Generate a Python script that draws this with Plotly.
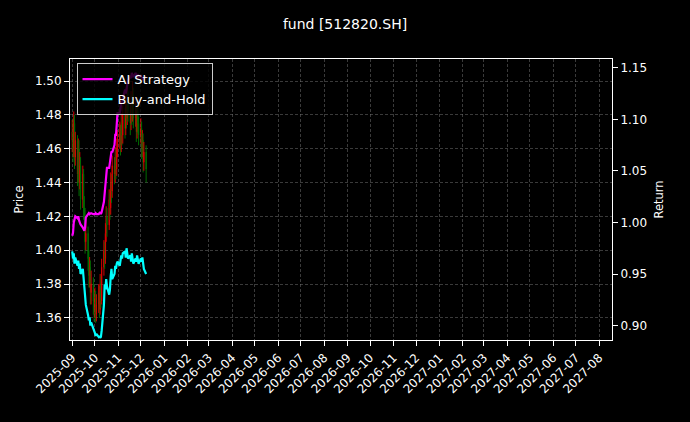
import pandas as pd
import plotly.graph_objects as go
from plotly.subplots import make_subplots

dates = pd.bdate_range("2025-09-01", "2025-12-08")

closes = [1.470,1.460,1.475,1.455,1.465,1.445,1.460,1.440,1.450,1.430,1.445,1.425,1.420,1.405,1.410,1.395,1.385,1.390,1.375,1.380,1.370,1.365,
          1.372,1.362,1.368,1.375,1.365,1.380,1.370,1.390,1.400,1.395,1.410,1.420,1.415,1.430,1.425,1.440,1.435,1.450,1.445,1.455,1.448,1.460,1.465,
          1.470,1.462,1.475,1.468,1.480,1.472,1.485,1.478,1.490,1.482,1.475,1.488,1.480,1.492,1.478,1.485,1.470,1.482,1.475,1.468,
          1.472,1.460,1.465,1.452,1.458,1.448]
first_open = 1.465
highs = [1.477,1.478,1.482,1.480,1.470,1.468,1.466,1.465,1.458,1.455,1.450,1.448,1.432,1.425,1.418,1.414,1.400,1.396,1.394,1.388,1.384,1.376,
         1.378,1.376,1.374,1.380,1.379,1.386,1.385,1.395,1.406,1.405,1.416,1.426,1.425,1.436,1.434,1.446,1.445,1.456,1.455,1.461,1.460,1.466,1.471,
         1.476,1.474,1.481,1.479,1.486,1.484,1.491,1.489,1.497,1.494,1.486,1.494,1.492,1.500,1.496,1.491,1.489,1.488,1.486,1.479,
         1.478,1.476,1.471,1.469,1.464,1.462]
lows = [1.458,1.452,1.455,1.448,1.450,1.438,1.440,1.432,1.436,1.424,1.425,1.418,1.412,1.398,1.400,1.388,1.378,1.378,1.368,1.368,1.362,1.358,
        1.360,1.357,1.358,1.363,1.360,1.362,1.366,1.368,1.385,1.389,1.392,1.405,1.408,1.412,1.418,1.421,1.428,1.431,1.439,1.440,1.442,1.444,1.455,
        1.460,1.456,1.458,1.462,1.463,1.466,1.468,1.472,1.474,1.476,1.468,1.471,1.474,1.476,1.472,1.473,1.464,1.466,1.469,1.462,
        1.463,1.454,1.455,1.446,1.447,1.440]
opens = [first_open] + closes[:-1]

ai_return = [0.987,0.990,1.000,1.005,1.006,1.004,1.006,1.002,1.000,0.998,0.995,0.993,0.992,0.995,1.005,1.008,1.009,1.008,1.009,1.009,1.008,1.008,
             1.008,1.009,1.008,1.008,1.009,1.010,1.008,1.010,1.020,1.031,1.031,1.045,1.053,1.053,1.060,1.069,1.069,1.068,1.075,1.085,1.085,1.095,1.106,
             1.106,1.110,1.118,1.115,1.120,1.129,1.125,1.130,1.135,1.138,1.141,1.140,1.145,1.143,1.141,1.145,1.142,1.140,1.144,1.141,
             1.142,1.140,1.141,1.138,1.140,1.141]
bh_return = [0.972,0.965,0.970,0.960,0.966,0.958,0.963,0.955,0.960,0.950,0.955,0.945,0.935,0.925,0.920,0.910,0.905,0.908,0.900,0.903,0.898,0.895,
             0.893,0.890,0.892,0.889,0.890,0.888,0.889,0.895,0.920,0.940,0.935,0.945,0.938,0.930,0.935,0.948,0.955,0.945,0.950,0.958,0.955,0.960,0.962,
             0.958,0.962,0.968,0.965,0.970,0.972,0.966,0.975,0.970,0.965,0.968,0.962,0.970,0.966,0.960,0.965,0.962,0.968,0.964,0.960,
             0.965,0.962,0.966,0.960,0.955,0.950]

fig = make_subplots(specs=[[{"secondary_y": True}]])
fig.add_trace(go.Candlestick(x=dates, open=opens, high=highs, low=lows, close=closes,
                             increasing=dict(line=dict(color="red", width=1), fillcolor="red"),
                             decreasing=dict(line=dict(color="green", width=1), fillcolor="green"),
                             opacity=0.85, showlegend=False, whiskerwidth=0), secondary_y=False)
fig.add_trace(go.Scatter(x=dates, y=ai_return, mode="lines", name="AI Strategy",
                         line=dict(color="#ff00ff", width=2.2)), secondary_y=True)
fig.add_trace(go.Scatter(x=dates, y=bh_return, mode="lines", name="Buy-and-Hold",
                         line=dict(color="#00ffff", width=2.2)), secondary_y=True)

grid = "rgba(128,128,128,0.45)"
fig.update_layout(
    width=690, height=422, paper_bgcolor="#000000", plot_bgcolor="#000000",
    font=dict(family="DejaVu Sans", color="white", size=12),
    margin=dict(l=70, r=78, t=59, b=82, autoexpand=False),
    title=dict(text="fund [512820.SH]", x=0.5, xanchor="center", y=0.955, font=dict(size=14)),
    legend=dict(x=0.012, y=0.985, xanchor="left", yanchor="top", bgcolor="rgba(0,0,0,0.8)",
                bordercolor="#cccccc", borderwidth=1, font=dict(size=13)),
    xaxis=dict(domain=[0, 1], range=["2025-08-29", "2027-08-18"], dtick="M1", tick0="2025-09-01", tickformat="%Y-%m",
               tickangle=-45, showgrid=True, gridcolor=grid, griddash="3px,2px", showline=True,
               linecolor="white", mirror=True, ticks="outside", tickcolor="white",
               automargin=False, rangeslider=dict(visible=False)),
)
fig.update_yaxes(title_text="Price", title_font_size=11.5, title_standoff=8, automargin=False,
                 range=[1.347, 1.513], dtick=0.02, tickformat=".2f",
                 showgrid=True, gridcolor=grid, griddash="3px,2px", showline=True, linecolor="white",
                 ticks="outside", tickcolor="white", zeroline=False, secondary_y=False)
fig.update_yaxes(title_text="Return", title_font_size=11.5, title_standoff=8, automargin=False,
                 range=[0.886, 1.1585], dtick=0.05, tickformat=".2f",
                 showgrid=False, showline=True, linecolor="white", ticks="outside",
                 tickcolor="white", zeroline=False, secondary_y=True)
fig.write_html("out.html", config={"displayModeBar": False},
               post_script="document.body.style.margin='0';document.body.style.background='#000';")
